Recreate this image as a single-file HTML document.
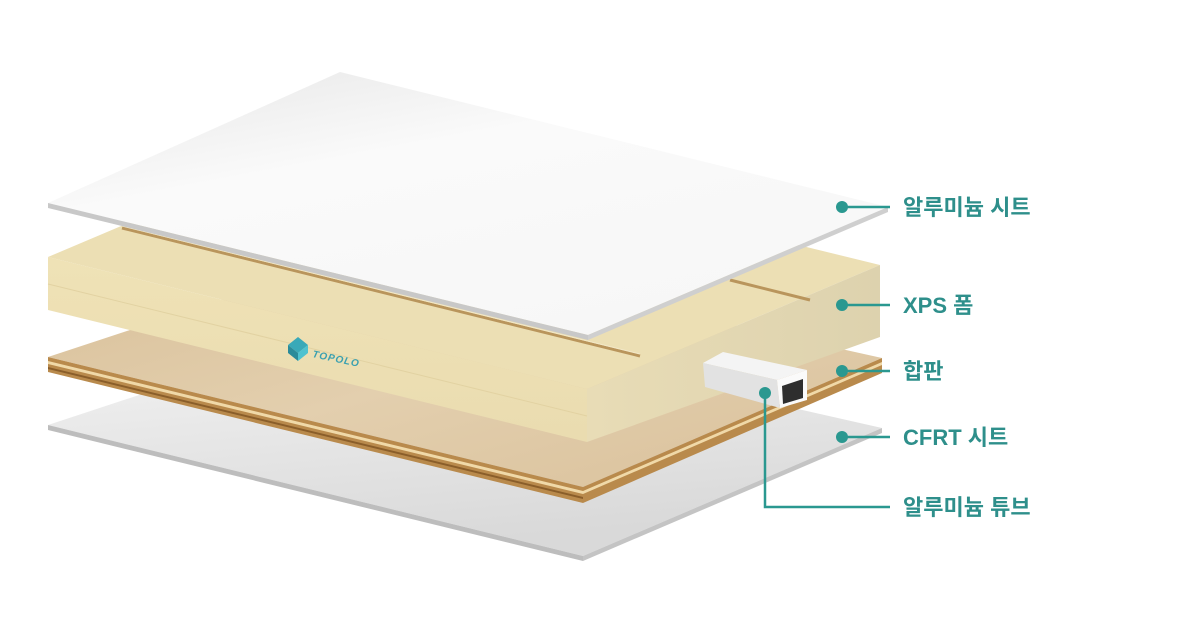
<!DOCTYPE html>
<html><head><meta charset="utf-8"><style>
html,body{margin:0;padding:0;background:#fff;width:1200px;height:628px;overflow:hidden}
svg{display:block}
.lbl{font-family:"Liberation Sans","Noto Sans CJK KR",sans-serif;font-weight:bold;font-size:22px;fill:#2e8f8b}
</style></head><body>
<svg width="1200" height="628" viewBox="0 0 1200 628" xmlns="http://www.w3.org/2000/svg">
<defs>
<linearGradient id="sheetB" x1="0" y1="0" x2="0.3" y2="1">
<stop offset="0" stop-color="#f6f6f6"/><stop offset="1" stop-color="#d9d9d9"/></linearGradient>
<linearGradient id="sheetT" x1="0" y1="0" x2="0.6" y2="1">
<stop offset="0" stop-color="#e6e6e6"/><stop offset="0.4" stop-color="#fafafa"/><stop offset="1" stop-color="#f7f7f7"/></linearGradient>
<linearGradient id="ply" x1="0" y1="0" x2="1" y2="1">
<stop offset="0" stop-color="#d8bf98"/><stop offset="0.5" stop-color="#e3cfae"/><stop offset="1" stop-color="#d9c09a"/></linearGradient>
<linearGradient id="foamF" x1="0" y1="0" x2="0" y2="1">
<stop offset="0" stop-color="#efe2b6"/><stop offset="1" stop-color="#eadcb0"/></linearGradient>
<linearGradient id="foamR" x1="0" y1="0" x2="1" y2="0">
<stop offset="0" stop-color="#e8dcb6"/><stop offset="1" stop-color="#ddd2ae"/></linearGradient>
</defs>

<polygon points="48,425 382,315 882,428 583,556" fill="url(#sheetB)"/>
<polygon points="48,425 583,556 583,561 48,430" fill="#bdbdbd"/>
<polygon points="583,556 882,428 882,433 583,561" fill="#c4c4c4"/>

<polygon points="48,357 382,247 882,358 583,487" fill="url(#ply)"/>
<polygon points="48,357 583,487 583,503 48,372" fill="#b98a4c"/>
<polygon points="48,361 583,491 583,494 48,364" fill="#f0d9a8"/>
<polygon points="48,367 583,497 583,499 48,369" fill="#8a5e2a"/>
<polygon points="583,487 882,358 882,373 583,503" fill="#b98a4c"/>
<polygon points="583,491 882,362 882,365 583,494" fill="#f0d9a8"/>

<polygon points="48,257 341,133 880,265 587,389" fill="#ecdfb4"/>
<polygon points="48,257 587,389 587,442 48,310" fill="url(#foamF)"/>
<polygon points="587,389 880,265 880,337 587,442" fill="url(#foamR)"/>
<line x1="48" y1="284" x2="587" y2="416" stroke="#e2d2a2" stroke-width="1"/>
<line x1="122" y1="228" x2="640" y2="356" stroke="#b9955c" stroke-width="3"/>
<line x1="122" y1="226" x2="640" y2="354" stroke="#f2e8c8" stroke-width="1"/>
<line x1="730" y1="280" x2="810" y2="300" stroke="#b9955c" stroke-width="3"/>
<g transform="translate(288,345)">
<polygon points="0,0 10,-8 20,0 10,8" fill="#39a9b8"/>
<polygon points="0,0 10,8 10,16 0,8" fill="#2a8b9a"/>
<polygon points="10,8 20,0 20,8 10,16" fill="#4fc2cf"/>
<text x="24" y="12" transform="rotate(12 24 12)" font-family="Liberation Sans,sans-serif" font-size="10" font-style="italic" font-weight="bold" fill="#3aa0b0" letter-spacing="1">TOPOLO</text>
</g>

<polygon points="703,363 723,352 807,370 777,380" fill="#f4f4f4"/>
<polygon points="703,363 777,380 780,408 705,387" fill="#e2e2e2"/>
<polygon points="777,380 807,370 807,400 780,408" fill="#fafafa"/>
<polygon points="782,386 803,379 803,398 783,404" fill="#2e2e2e"/>

<polygon points="48,203 340,72 888,207 588,335" fill="url(#sheetT)"/>
<polygon points="48,203 588,335 588,340 48,208" fill="#c8c8c8"/>
<polygon points="588,335 888,207 888,212 588,340" fill="#cfcfcf"/>

<g stroke="#2a9890" stroke-width="2.5" fill="none">
<line x1="842" y1="207" x2="890" y2="207"/>
<line x1="842" y1="305" x2="890" y2="305"/>
<line x1="842" y1="371" x2="890" y2="371"/>
<line x1="842" y1="437" x2="890" y2="437"/>
<polyline points="765,393 765,507 890,507"/>
</g>
<g fill="#2a9890">
<circle cx="842" cy="207" r="6"/><circle cx="842" cy="305" r="6"/>
<circle cx="842" cy="371" r="6"/><circle cx="842" cy="437" r="6"/>
<circle cx="765" cy="393" r="6"/>
</g>
<text class="lbl" x="903" y="215">알루미늄 시트</text>
<text class="lbl" x="903" y="313">XPS 폼</text>
<text class="lbl" x="903" y="379">합판</text>
<text class="lbl" x="903" y="445">CFRT 시트</text>
<text class="lbl" x="903" y="515">알루미늄 튜브</text>
</svg>
</body></html>
